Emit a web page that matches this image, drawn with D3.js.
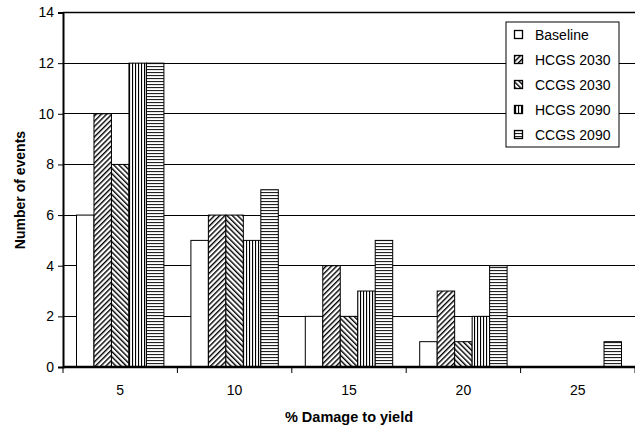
<!DOCTYPE html>
<html><head><meta charset="utf-8">
<script src="https://cdn.jsdelivr.net/npm/d3@7"></script>
<style>body{margin:0;background:#fff}svg{display:block;font-family:"Liberation Sans",Arial,sans-serif}</style>
</head><body>
<svg id="c" width="635" height="428"></svg>
<script>
const categories = ["5", "10", "15", "20", "25"];
const seriesNames = ["Baseline", "HCGS 2030", "CCGS 2030", "HCGS 2090", "CCGS 2090"];
const baseline = [6, 5, 2, 1, 0];
const hcgs2030 = [10, 6, 4, 3, 0];
const ccgs2030 = [8, 6, 2, 1, 0];
const hcgs2090 = [12, 5, 3, 2, 0];
const ccgs2090 = [12, 7, 5, 4, 1];
const yTicks = [0, 2, 4, 6, 8, 10, 12, 14];

const series = [baseline, hcgs2030, ccgs2030, hcgs2090, ccgs2090];
const fills = ["#fff", "url(#pFwd)", "url(#pBack)", "url(#pVert)", "url(#pHorz)"];

const svg = d3.select("#c");
const m = {l: 63, r: 0, t: 12.5, b: 61};
const W = 635, H = 428;
const x = d3.scaleBand().domain(categories).range([m.l, W - m.r]).paddingInner(0.236).paddingOuter(0.118);
const xs = d3.scaleBand().domain(d3.range(5)).range([0, x.bandwidth()]);
const y = d3.scaleLinear().domain([0, 14]).range([H - m.b, m.t]);

const defs = svg.append("defs");
function stripe(id, angle, sp, sw, color) {
  const p = defs.append("pattern").attr("id", id).attr("patternUnits", "userSpaceOnUse")
    .attr("width", sp).attr("height", sp).attr("patternTransform", `rotate(${angle})`);
  p.append("rect").attr("width", sp).attr("height", sp).attr("fill", "#fff");
  p.append("rect").attr("x", 0).attr("y", 0).attr("width", sw).attr("height", sp).attr("fill", color);
}
stripe("pFwd", 45, 3.7, 1.4, "#000");
stripe("pBack", -45, 3.7, 1.4, "#000");
stripe("pVert", 0, 3, 1.1, "#000");
stripe("pHorz", 90, 3, 1.1, "#222");

// gridlines
svg.append("g").selectAll("line").data(yTicks.filter(d => d > 0)).join("line")
  .attr("x1", m.l).attr("x2", W).attr("y1", d => y(d)).attr("y2", d => y(d))
  .attr("stroke", "#000").attr("stroke-width", 1).attr("shape-rendering", "crispEdges");

// bars
const g = svg.append("g");
series.forEach((vals, si) => {
  g.selectAll(null).data(vals).join("rect")
    .attr("x", (d, i) => x(categories[i]) + xs(si))
    .attr("y", d => y(d))
    .attr("width", xs.bandwidth())
    .attr("height", d => y(0) - y(d))
    .attr("fill", fills[si])
    .attr("stroke", "#000").attr("stroke-width", 1);
});

// axes
const yAxis = d3.axisLeft(y).tickValues(yTicks).tickSize(5).tickPadding(4);
const ya = svg.append("g").attr("transform", `translate(${m.l},0)`).call(yAxis);
ya.select(".domain").attr("stroke-width", 2);
ya.selectAll("text").attr("font-size", 14).attr("fill", "#000").attr("font-family", "Liberation Sans, Arial, sans-serif");

const xAxis = d3.axisBottom(x).tickSize(0).tickPadding(18);
const xa = svg.append("g").attr("transform", `translate(0,${y(0)})`).call(xAxis);
xa.select(".domain").attr("stroke-width", 2.5).attr("d", `M${m.l},0H${W}`);
xa.selectAll("text").attr("font-size", 14).attr("fill", "#000").attr("font-family", "Liberation Sans, Arial, sans-serif");
// category separator ticks
const sepTicks = categories.map(c => x(c) + x.bandwidth() + x.step() * x.paddingInner() / 2);
svg.append("g").selectAll("line").data(sepTicks).join("line")
  .attr("x1", d => d).attr("x2", d => d).attr("y1", y(0)).attr("y2", y(0) + 6).attr("stroke", "#000");
svg.append("line").attr("x1", m.l).attr("x2", m.l).attr("y1", y(0)).attr("y2", y(0) + 6).attr("stroke", "#000");

// top border line
svg.append("line").attr("x1", m.l).attr("x2", W).attr("y1", y(14)).attr("y2", y(14)).attr("stroke", "#000").attr("stroke-width", 1.5);

// titles
svg.append("text").attr("x", (m.l + W) / 2).attr("y", 422).attr("text-anchor", "middle")
  .attr("font-size", 14.5).attr("font-weight", "bold").text("% Damage to yield");
svg.append("text").attr("transform", `translate(25,${190}) rotate(-90)`).attr("text-anchor", "middle")
  .attr("font-size", 14).attr("font-weight", "bold").text("Number of events");

// legend
const lg = svg.append("g").attr("transform", "translate(506,22)");
lg.append("rect").attr("width", 113).attr("height", 125).attr("fill", "#fff").attr("stroke", "#000");
seriesNames.forEach((n, i) => {
  const yy = 13 + i * 25;
  lg.append("rect").attr("x", 8.5).attr("y", yy - 4.5).attr("width", 8).attr("height", 8)
    .attr("fill", fills[i]).attr("stroke", "#000").attr("stroke-width", 1.3);
  lg.append("text").attr("x", 29).attr("y", yy + 5).attr("font-size", 14).text(n);
});
</script>
</body></html>
